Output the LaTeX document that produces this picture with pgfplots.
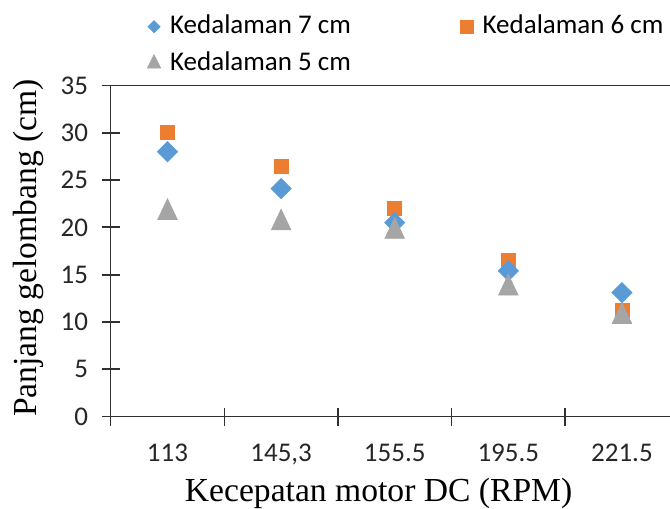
\documentclass[border=0pt]{standalone}
\usepackage{pgfplots}
\pgfplotsset{compat=1.18}
\usepackage{fontspec}
\setmainfont{Carlito}
\newfontfamily\timesf{Liberation Serif}
\definecolor{cblue}{HTML}{5B9BD5}
\definecolor{corange}{HTML}{ED7D31}
\definecolor{cgray}{HTML}{A5A5A5}
\definecolor{axc}{HTML}{303030}
\pgfplotstableread{
x d7 d6 d5
0 28.0 30.0 22.0
1 24.1 26.4 20.9
2 20.5 22.0 20.0
3 15.4 16.5 14.0
4 13.1 11.2 11.0
}\datatab
\pgfplotsset{
  myleg/.style={legend image code/.code={\draw[mark repeat=2,mark phase=2,##1] plot coordinates {(0pt,0pt)(4.25pt,0pt)(8.5pt,0pt)};}}
}
\begin{document}
\begin{tikzpicture}
\begin{axis}[
  at={(0,0)}, anchor=south west,
  scale only axis, width=279.65pt, height=165.5pt,
  xmin=-0.5, xmax=4.423, ymin=0, ymax=35,
  axis x line*=bottom, axis y line*=left,
  axis line style={draw=axc, line width=0.75pt},
  x tick style={draw=axc, line width=0.75pt},
  y tick style={draw=axc, line width=0.9pt},
  tick align=center, major tick length=9pt,
  /pgf/number format/assume math mode=true,
  ytick={0,5,...,35},
  yticklabel style={font=\fontsize{13.5}{16}\selectfont, anchor=east, inner sep=0pt, xshift=-6.6pt, color=black!85},
  xtick={-0.5,0.5,1.5,2.5,3.5}, xticklabels={},
  extra x ticks={0,1,2,3,4},
  extra x tick labels={113,{145,3},155.5,195.5,221.5},
  extra x tick style={major tick length=0pt,
     xticklabel style={font=\fontsize{13.5}{16}\selectfont, anchor=base, inner sep=0pt, yshift=-22.25pt, color=black!85}},
  xlabel={\timesf Kecepatan motor DC (RPM)},
  xlabel style={font=\fontsize{16.8}{20}\selectfont, at={(axis description cs:0.479,0)}, anchor=base, yshift=-42.6pt, inner sep=0pt},
  ylabel={\timesf Panjang gelombang (cm)},
  ylabel style={font=\fontsize{16.8}{20}\selectfont, at={(axis description cs:-0.147,0.509)}, anchor=center, rotate=0, inner sep=0pt},
  legend columns=2,
  legend style={draw=none, fill=none, at={(axis description cs:0.0658,1.217)}, anchor=north west,
    inner sep=0pt, outer sep=0pt, row sep=5.5pt,
    font=\fontsize{13.5}{16}\selectfont,
    nodes={inner sep=0pt, text height=10pt, text depth=3pt},
    /tikz/every odd column/.append style={column sep=4.75pt},
    /tikz/every even column/.append style={column sep=54.5pt}},
  after end axis/.code={\draw[axc, line width=0.75pt] (rel axis cs:0,1) -- (rel axis cs:1,1);},
]
\addlegendimage{only marks, mark=square*, mark size=2.12pt, mark options={rotate=45, draw=cblue, fill=cblue}, myleg}
\addlegendentry{Kedalaman 7 cm}
\addlegendimage{only marks, mark=square*, mark size=3.3pt, mark options={draw=corange, fill=corange}, myleg}
\addlegendentry{Kedalaman 6 cm}
\addlegendimage{only marks, mark=triangle*, mark size=3.8pt, mark options={yscale=1.15, draw=cgray, fill=cgray}, myleg}
\addlegendentry{Kedalaman 5 cm}
\addplot[only marks, forget plot, mark=square*, mark size=3.5pt, mark options={draw=corange, fill=corange}] table[x=x, y=d6] {\datatab};
\addplot[only marks, forget plot, mark=square*, mark size=3.54pt, mark options={rotate=45, draw=cblue, fill=cblue}] table[x=x, y=d7] {\datatab};
\addplot[only marks, forget plot, mark=triangle*, mark size=5.6pt, mark options={yscale=1.22, yshift=-1.7pt, draw=cgray, fill=cgray}] table[x=x, y=d5] {\datatab};
\end{axis}
\pgfresetboundingbox
\path (-55.35pt,-46.25pt) rectangle (279.65pt,208.25pt);
\end{tikzpicture}
\end{document}
